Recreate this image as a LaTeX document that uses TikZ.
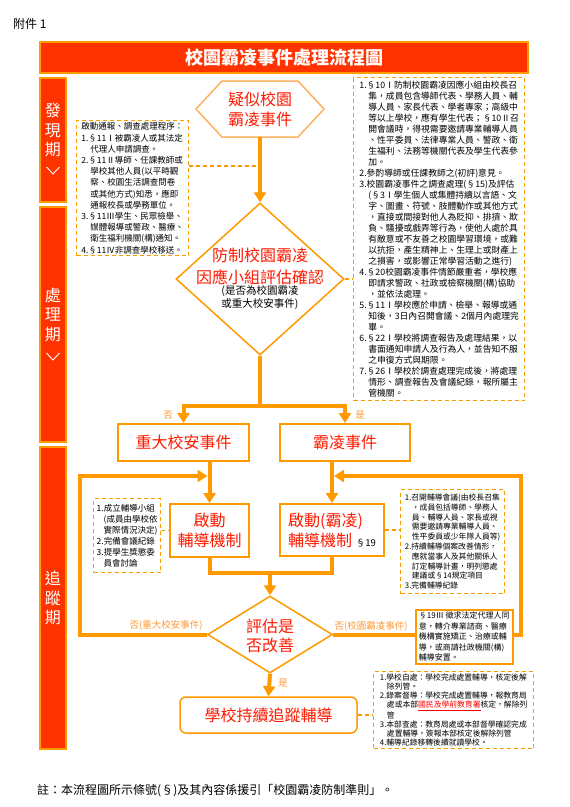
\documentclass[tikz,border=0pt]{standalone}
\usepackage{fontspec}
\setmainfont{Noto Sans CJK TC}
\usetikzlibrary{arrows.meta,shapes.geometric}
\definecolor{barred}{HTML}{FF3300}
\definecolor{frameor}{HTML}{FF9900}
\definecolor{tagor}{HTML}{FF9933}
\definecolor{hexor}{HTML}{FFB060}
\definecolor{headred}{HTML}{FF1A00}
\newcommand{\fs}[2]{\fontsize{#1pt}{#2pt}\selectfont}
\newcommand{\indt}{\hspace*{9pt}}
\newcommand{\inds}{\hspace*{7pt}}

\begin{document}
\begin{tikzpicture}[x=1pt,y=-1pt,
  every node/.style={inner sep=0pt},
  phasebar/.style={draw=frameor,line width=2pt,fill=barred,minimum width=26pt,
    text=white,font=\fs{16}{19.5},align=center},
  chevron/.style={draw=white,line width=0.9pt},
  stepbox/.style={draw=frameor,line width=2pt,fill=white,text=headred,
    font=\fs{16}{20},align=center},
  notebox/.style={draw=frameor,line width=1.3pt,dash pattern=on 4pt off 3pt,
    fill=white,align=left,inner sep=2pt,anchor=north west},
  flowline/.style={draw=frameor,line width=4pt},
  flowarrow/.style={flowline,-{Triangle[width=12pt,length=10pt]}},
  dashlink/.style={draw=frameor,line width=1.3pt,dash pattern=on 4pt off 3pt},
  yesno/.style={text=tagor,font=\fs{9.5}{11}},
  askshape/.style={diamond,draw=frameor,line width=1.5pt,fill=white}
]
\useasboundingbox (0,0) rectangle (570,807);

% heading
\node[font=\fs{12}{14},anchor=west] (annex) at (13,24) {附件 1};
\node[draw=frameor,line width=2pt,fill=barred,minimum width=488pt,minimum height=31pt,
  text=white,font=\fs{18}{20}\bfseries] (title) at (284,57.5) {校園霸凌事件處理流程圖};

% phase bars
\node[phasebar,minimum height=124pt] (found) at (53,140) {發\\現\\期\\\phantom{期}};
\node[phasebar,minimum height=235pt] (handle) at (53,324.5) {處\\理\\期\\\phantom{期}};
\node[phasebar,minimum height=302pt] (track) at (53,598) {追\\蹤\\期};
\draw[chevron] (46.5,167) -- (53,174) -- (59.5,167);
\draw[chevron] (46.5,353) -- (53,360) -- (59.5,353);

% suspected case
\draw[draw=hexor,line width=1.5pt] (196,109) -- (222,81) -- (298,81) -- (324,109)
  -- (298,137) -- (222,137) -- cycle;
\node[text=headred,font=\fs{16}{20},align=center] (suspect) at (260,109) {疑似校園\\霸凌事件};
\coordinate (suspectS) at (260,137);
\coordinate (tapA) at (260,166);

\node[notebox,minimum width=112pt,minimum height=134pt,font=\fs{8.5}{11.2}] (reportnote) at (76,120)
  {啟動通報、調查處理程序：\\
   1.§11Ⅰ被霸凌人或其法定\\
   \indt 代理人申請調查。\\
   2.§11Ⅱ導師、任課教師或\\
   \indt 學校其他人員(以平時觀\\
   \indt 察、校園生活調查問卷\\
   \indt 或其他方式)知悉，應即\\
   \indt 通報校長或學務單位。\\
   3.§11Ⅲ學生、民眾檢舉、\\
   \indt 媒體報導或警政、醫療、\\
   \indt 衛生福利機關(構)通知。\\
   4.§11Ⅳ非調查學校移送。};

% assessment by the team
\node[askshape,minimum width=168pt,minimum height=152pt] (assess) at (260,279) {};
\node[text=headred,font=\fs{16}{22},align=center] (assesstxt) at (260,266) {防制校園霸凌\\因應小組評估確認};
\node[font=\fs{10.5}{13.5},align=center] (assessnote) at (260,297.5) {(是否為校園霸凌\\或重大校安事件)};

\node[notebox,minimum width=171pt,minimum height=323pt,font=\fs{8.8}{11}] (teamnote) at (353,77)
  {1.§10Ⅰ防制校園霸凌因應小組由校長召\\
   \indt 集，成員包含導師代表、學務人員、輔\\
   \indt 導人員、家長代表、學者專家；高級中\\
   \indt 等以上學校，應有學生代表；§10Ⅱ召\\
   \indt 開會議時，得視需要邀請專業輔導人員\\
   \indt 、性平委員、法律專業人員、警政、衛\\
   \indt 生福利、法務等機關代表及學生代表參\\
   \indt 加。\\
   2.參酌導師或任課教師之(初評)意見。\\
   3.校園霸凌事件之調查處理(§15)及評估\\
   \indt (§3Ⅰ學生個人或集體持續以言語、文\\
   \indt 字、圖畫、符號、肢體動作或其他方式\\
   \indt ，直接或間接對他人為貶抑、排擠、欺\\
   \indt 負、騷擾或戲弄等行為，使他人處於具\\
   \indt 有敵意或不友善之校園學習環境，或難\\
   \indt 以抗拒，產生精神上、生理上或財產上\\
   \indt 之損害，或影響正常學習活動之進行)\\
   4.§20校園霸凌事件情節嚴重者，學校應\\
   \indt 即請求警政、社政或檢察機關(構)協助\\
   \indt ，並依法處理。\\
   5.§11Ⅰ學校應於申請、檢舉、報導或通\\
   \indt 知後，3日內召開會議、2個月內處理完\\
   \indt 畢。\\
   6.§22Ⅰ學校將調查報告及處理結果，以\\
   \indt 書面通知申請人及行為人，並告知不服\\
   \indt 之申復方式與期限。\\
   7.§26Ⅰ學校於調查處理完成後，將處理\\
   \indt 情形、調查報告及會議紀錄，報所屬主\\
   \indt 管機關。};

\draw[flowarrow] (suspectS) -- (assess.north);
\draw[dashlink] (reportnote.east |- tapA) -- (tapA);
\draw[dashlink] (assess.east) -- (assess.east -| teamnote.west);

% two kinds of case
\node[stepbox,minimum width=131pt,minimum height=37pt] (major) at (183.5,442.5) {重大校安事件};
\node[stepbox,minimum width=130pt,minimum height=37pt] (bully) at (345,442.5) {霸凌事件};
\coordinate (split) at (260,406);
\draw[flowline] (assess.south) -- (split);
\draw[flowarrow] (split) -| (major.north);
\draw[flowarrow] (split) -| (bully.north);
\node[yesno] (noA) at (168,415) {否};
\node[yesno] (yesA) at (360,415) {是};

% counselling
\node[stepbox,minimum width=79pt,minimum height=53pt] (counsel) at (209.5,530.5) {啟動\\輔導機制};
\node[stepbox,minimum width=104pt,minimum height=52pt,align=left] (counselB) at (332,530)
  {啟動(霸凌)\\輔導機制 {\color{black}\fs{9.5}{10}§19}};
\draw[flowarrow] (major.south -| counsel.north) -- (counsel.north);
\draw[flowarrow] (bully.south -| counselB.north) -- (counselB.north);

\node[notebox,minimum width=67pt,minimum height=74pt,font=\fs{8.5}{11}] (groupnote) at (93,498)
  {1.成立輔導小組\\
   \inds(成員由學校依\\
   \inds 實際情況決定)\\
   2.完備會議紀錄\\
   3.提學生獎懲委\\
   \inds 員會討論};
\node[notebox,minimum width=104pt,minimum height=104pt,font=\fs{7.8}{9.8}] (counselnote) at (400,489)
  {1.召開輔導會議(由校長召集\\
   \inds，成員包括導師、學務人\\
   \inds 員、輔導人員、家長或視\\
   \inds 需要邀請專業輔導人員、\\
   \inds 性平委員或少年隊人員等)\\
   2.持續輔導個案改善情形，\\
   \inds 應就當事人及其他關係人\\
   \inds 訂定輔導計畫，明列懲處\\
   \inds 建議或§14規定項目\\
   3.完備輔導紀錄};
\draw[dashlink] (groupnote.east |- counsel.west) -- (counsel.west);
\draw[dashlink] (counselB.east) -- (counselB.east -| counselnote.west);

% improvement check
\node[askshape,minimum width=125pt,minimum height=77pt] (improve) at (270,634.5) {};
\node[text=headred,font=\fs{16}{19},align=center] (improvetxt) at (270,636) {評估是\\否改善};
\coordinate (merge) at (270,573);
\draw[flowline] (counsel.south) |- (merge);
\draw[flowline] (counselB.south) |- (merge);
\draw[flowarrow] (merge) -- (improve.north);

\coordinate (loopL) at (80,476);
\coordinate (loopR) at (521,476);
\draw[flowarrow,shorten >=2pt] (improve.west) -| (loopL) -- (loopL -| counsel.north);
\draw[flowarrow,shorten >=2pt] (improve.east) -| (loopR) -- (loopR -| counselB.north);
\node[yesno] (noB) at (166,625) {否(重大校安事件)};
\node[yesno] (noC) at (371,626) {否(校園霸凌事件)};

\node[draw=frameor,line width=1.5pt,fill=white,minimum width=97pt,minimum height=54pt,
  anchor=north west,align=left,font=\fs{8}{10.5}] (referral) at (415,609)
  {§19Ⅲ 徵求法定代理人同\\
   意，轉介專業諮商、醫療\\
   機構實施矯正、治療或輔\\
   導，或商請社政機關(構)\\
   輔導安置。};

% follow-up
\node[stepbox,line width=1.5pt,rounded corners=6pt,minimum width=177pt,minimum height=36pt] (follow) at (268.5,715) {學校持續追蹤輔導};
\draw[flowarrow] (improve.south) -- (follow.north);
\node[yesno] (yesB) at (283,683) {是};

\node[notebox,minimum width=160pt,minimum height=77pt,font=\fs{7.8}{9}] (closenote) at (373,671)
  {1.學校自處：學校完成處置輔導，核定後解\\
   \inds 除列管。\\
   2.錄案督導：學校完成處置輔導，報教育局\\
   \inds 處或本部{\color{red}\underline{國民及學前教育署}}核定，解除列\\
   \inds 管\\
   3.本部查處：教育局處或本部督學確認完成\\
   \inds 處置輔導，簽報本部核定後解除列管\\
   4.輔導紀錄移轉後續就讀學校。};
\draw[dashlink] (follow.east) -- (follow.east -| closenote.west);

% note
\node[font=\fs{12}{14},anchor=west] (footnote) at (37,791) {註：本流程圖所示條號(§)及其內容係援引「校園霸凌防制準則」。};
\end{tikzpicture}
\end{document}
